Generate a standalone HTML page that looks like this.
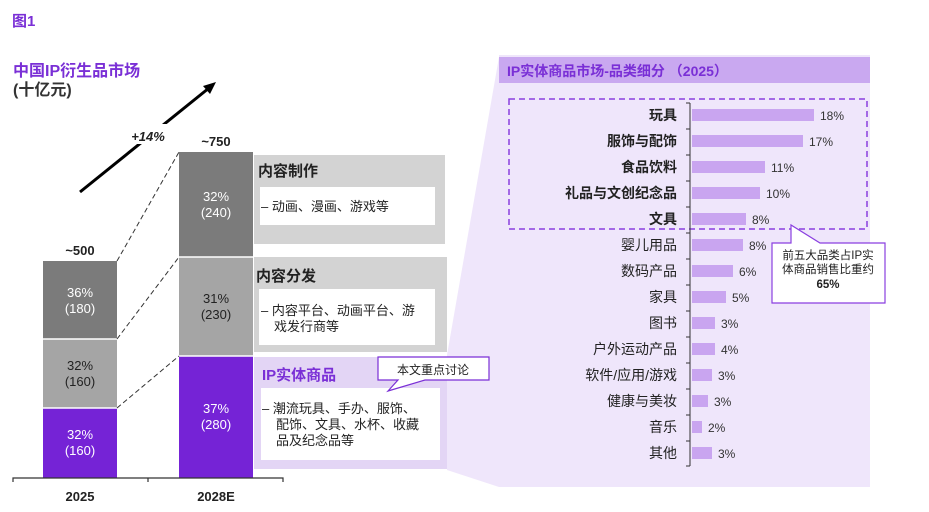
<!DOCTYPE html>
<html><head><meta charset="utf-8"><style>
body{margin:0;background:#fff}
svg{display:block}
text{font-family:"Liberation Sans","Noto Sans CJK SC",sans-serif}
</style></head><body>
<svg width="929" height="512" viewBox="0 0 929 512">
<text x="12" y="26" font-size="15" font-weight="bold" fill="#7a2fd6">图1</text>
<text x="13" y="76" font-size="16" font-weight="bold" fill="#7a2fd6">中国IP衍生品市场</text>
<text x="13" y="95" font-size="16" font-weight="bold" fill="#333">(十亿元)</text>
<line x1="80" y1="192" x2="209" y2="88" stroke="#000" stroke-width="3"/>
<polygon points="216,82 203,86 210,94" fill="#000"/>
<rect x="125" y="124" width="44" height="20" fill="#fff"/>
<text x="148" y="141" font-size="13" font-weight="bold" font-style="italic" text-anchor="middle" fill="#222">+14%</text>
<polygon points="447,355 499,57 499,487 447,470" fill="#efe6fb"/>
<rect x="43" y="261" width="74" height="78" fill="#7b7b7b"/>
<rect x="43" y="339" width="74" height="69" fill="#a5a5a5"/>
<rect x="43" y="408" width="74" height="70" fill="#7523d6"/>
<rect x="179" y="152" width="74" height="105" fill="#7b7b7b"/>
<rect x="179" y="257" width="74" height="99" fill="#a5a5a5"/>
<rect x="179" y="356" width="74" height="122" fill="#7523d6"/>
<g stroke="#fff" stroke-width="1.5"><line x1="43" y1="339" x2="117" y2="339"/><line x1="43" y1="408" x2="117" y2="408"/><line x1="179" y1="257" x2="253" y2="257"/><line x1="179" y1="356" x2="253" y2="356"/></g>
<g font-size="13" text-anchor="middle">
<text x="80" y="297" fill="#fff">36%</text><text x="80" y="313" fill="#fff">(180)</text>
<text x="80" y="370" fill="#222">32%</text><text x="80" y="386" fill="#222">(160)</text>
<text x="80" y="439" fill="#fff">32%</text><text x="80" y="455" fill="#fff">(160)</text>
<text x="216" y="201" fill="#fff">32%</text><text x="216" y="217" fill="#fff">(240)</text>
<text x="216" y="303" fill="#222">31%</text><text x="216" y="319" fill="#222">(230)</text>
<text x="216" y="413" fill="#fff">37%</text><text x="216" y="429" fill="#fff">(280)</text>
</g>
<g font-size="13" font-weight="bold" text-anchor="middle" fill="#222">
<text x="80" y="255">~500</text><text x="216" y="146">~750</text>
<text x="80" y="501">2025</text><text x="216" y="501">2028E</text>
</g>
<g stroke="#333" stroke-width="1" stroke-dasharray="5,3"><line x1="117" y1="261" x2="179" y2="152"/><line x1="117" y1="339" x2="179" y2="257"/><line x1="117" y1="408" x2="179" y2="356"/></g>
<path d="M13,482 V478 H283 V482 M148,478 V482" stroke="#333" stroke-width="1.2" fill="none"/>
<rect x="254" y="155" width="191" height="89" fill="#d3d3d3"/>
<text x="258" y="176" font-size="15" font-weight="bold" fill="#222">内容制作</text>
<rect x="260" y="187" width="175" height="38" fill="#fff"/>
<text x="261" y="211" font-size="13" fill="#222">– 动画、漫画、游戏等</text>
<rect x="254" y="257" width="193" height="95" fill="#d3d3d3"/>
<text x="256" y="281" font-size="15" font-weight="bold" fill="#222">内容分发</text>
<rect x="259" y="289" width="176" height="56" fill="#fff"/>
<text x="261" y="315" font-size="13" fill="#222">– 内容平台、动画平台、游</text>
<text x="274" y="331" font-size="13" fill="#222">戏发行商等</text>
<rect x="254" y="357" width="193" height="112" fill="#e3d5f5"/>
<text x="262" y="380" font-size="15" font-weight="bold" fill="#7a2fd6">IP实体商品</text>
<rect x="261" y="388" width="179" height="72" fill="#fff"/>
<text x="262" y="413" font-size="13" fill="#222">– 潮流玩具、手办、服饰、</text>
<text x="276" y="429" font-size="13" fill="#222">配饰、文具、水杯、收藏</text>
<text x="276" y="445" font-size="13" fill="#222">品及纪念品等</text>
<polygon points="378,357 489,357 489,380 425,380 388,391 398,380 378,380" fill="#fff" stroke="#7a2fd6" stroke-width="1.2"/>
<text x="433" y="374" font-size="12" text-anchor="middle" fill="#222">本文重点讨论</text>
<rect x="499" y="55" width="371" height="432" fill="#efe6fb"/>
<rect x="499" y="57" width="371" height="26" fill="#c9a8f0"/>
<text x="507" y="76" font-size="14" font-weight="bold" fill="#7a2fd6">IP实体商品市场-品类细分 （2025）</text>
<rect x="509" y="99" width="358" height="130" fill="none" stroke="#8a3fe0" stroke-width="1.5" stroke-dasharray="6,4"/>
<line x1="690" y1="103" x2="690" y2="466" stroke="#333" stroke-width="1"/>
<g font-size="14" fill="#222">
<g font-weight="bold" text-anchor="end">
<text x="677" y="120">玩具</text><text x="677" y="146">服饰与配饰</text><text x="677" y="172">食品饮料</text><text x="677" y="198">礼品与文创纪念品</text><text x="677" y="224">文具</text></g>
<g text-anchor="end">
<text x="677" y="250">婴儿用品</text><text x="677" y="276">数码产品</text><text x="677" y="302">家具</text><text x="677" y="328">图书</text><text x="677" y="354">户外运动产品</text><text x="677" y="380">软件/应用/游戏</text><text x="677" y="406">健康与美妆</text><text x="677" y="432">音乐</text><text x="677" y="458">其他</text></g>
<g fill="#c9a5f0">
<rect x="692" y="109" width="122" height="12"/><rect x="692" y="135" width="111" height="12"/><rect x="692" y="161" width="73" height="12"/><rect x="692" y="187" width="68" height="12"/><rect x="692" y="213" width="54" height="12"/><rect x="692" y="239" width="51" height="12"/><rect x="692" y="265" width="41" height="12"/><rect x="692" y="291" width="34" height="12"/><rect x="692" y="317" width="23" height="12"/><rect x="692" y="343" width="23" height="12"/><rect x="692" y="369" width="20" height="12"/><rect x="692" y="395" width="16" height="12"/><rect x="692" y="421" width="10" height="12"/><rect x="692" y="447" width="20" height="12"/></g>
<g font-size="12" fill="#333">
<text x="820" y="120">18%</text><text x="809" y="146">17%</text><text x="771" y="172">11%</text><text x="766" y="198">10%</text><text x="752" y="224">8%</text><text x="749" y="250">8%</text><text x="739" y="276">6%</text><text x="732" y="302">5%</text><text x="721" y="328">3%</text><text x="721" y="354">4%</text><text x="718" y="380">3%</text><text x="714" y="406">3%</text><text x="708" y="432">2%</text><text x="718" y="458">3%</text></g>
</g>
<g stroke="#333" stroke-width="1">
<path d="M686,103H690M686,129H690M686,155H690M686,181H690M686,207H690M686,233H690M686,259H690M686,285H690M686,311H690M686,337H690M686,363H690M686,389H690M686,415H690M686,441H690M686,466H690"/></g>
<polygon points="772,243 791,243 791,225 820,243 885,243 885,303 772,303" fill="#fff" stroke="#8a3fe0" stroke-width="1.2"/>
<g font-size="11.5" text-anchor="middle" fill="#222"><text x="828" y="259">前五大品类占IP实</text><text x="828" y="273">体商品销售比重约</text><text x="828" y="288" font-weight="bold">65%</text></g>
</svg>
</body></html>
